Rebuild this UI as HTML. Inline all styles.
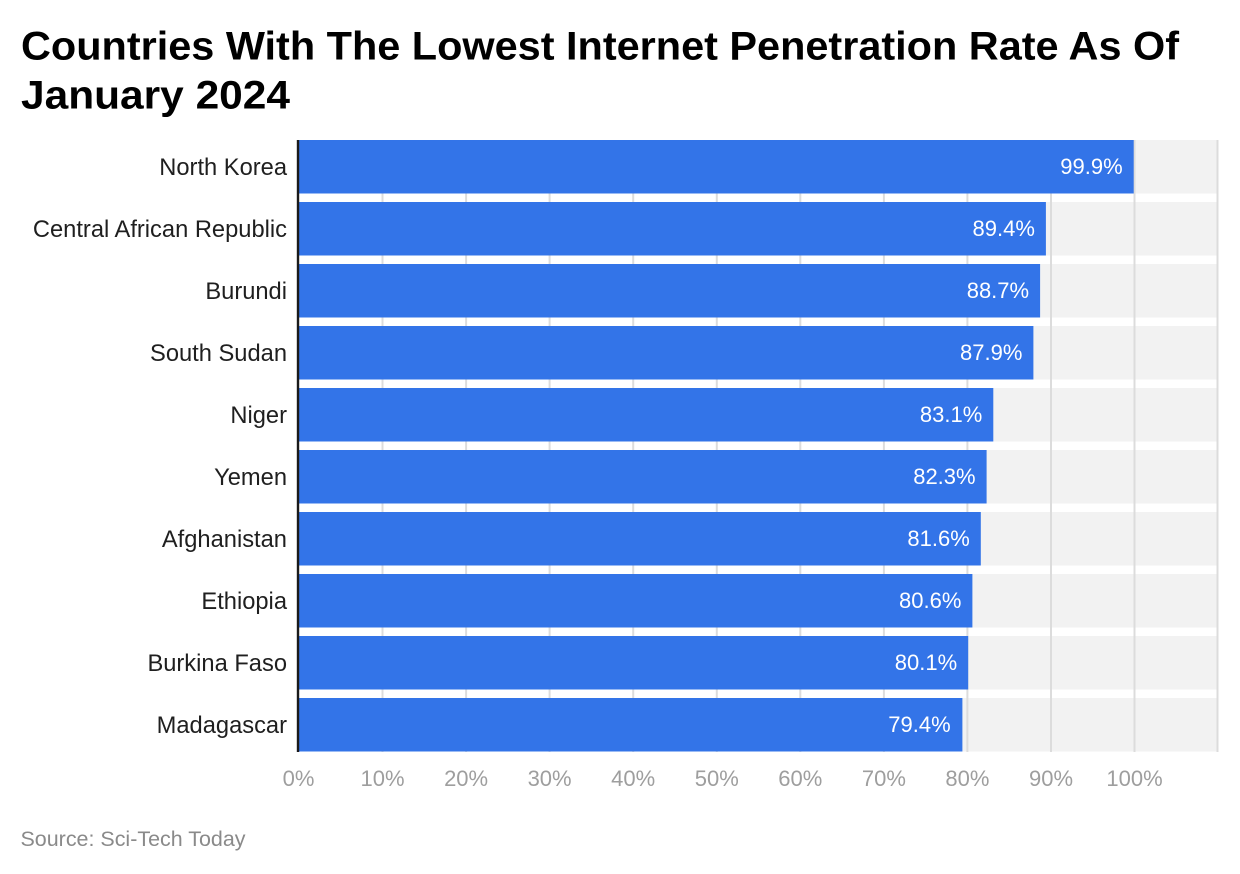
<!DOCTYPE html>
<html>
<head>
<meta charset="utf-8">
<style>
  html, body { margin:0; padding:0; background:#ffffff; }
  body { width:1240px; height:874px; overflow:hidden; }
  svg { display:block; }
  text { font-family: "Liberation Sans", Arial, sans-serif; }
</style>
</head>
<body>
<svg width="1240" height="874" viewBox="0 0 1240 874" xmlns="http://www.w3.org/2000/svg">
  <rect x="0" y="0" width="1240" height="874" fill="#ffffff"/>

  <!-- Title -->
  <text x="21" y="59.5" font-size="40" font-weight="bold" fill="#000" textLength="1158" lengthAdjust="spacingAndGlyphs">Countries With The Lowest Internet Penetration Rate As Of</text>
  <text x="21" y="108.5" font-size="40" font-weight="bold" fill="#000" textLength="269" lengthAdjust="spacingAndGlyphs">January 2024</text>

  <!-- Gray row backgrounds -->
  <g fill="#f2f2f2">
    <rect x="299" y="140" width="918" height="53.5"/>
    <rect x="299" y="202" width="918" height="53.5"/>
    <rect x="299" y="264" width="918" height="53.5"/>
    <rect x="299" y="326" width="918" height="53.5"/>
    <rect x="299" y="388" width="918" height="53.5"/>
    <rect x="299" y="450" width="918" height="53.5"/>
    <rect x="299" y="512" width="918" height="53.5"/>
    <rect x="299" y="574" width="918" height="53.5"/>
    <rect x="299" y="636" width="918" height="53.5"/>
    <rect x="299" y="698" width="918" height="53.5"/>
  </g>

  <!-- Gridlines -->
  <g stroke="#dcdcdc" stroke-width="2">
    <line x1="382.5" y1="140" x2="382.5" y2="752"/>
    <line x1="466.1" y1="140" x2="466.1" y2="752"/>
    <line x1="549.6" y1="140" x2="549.6" y2="752"/>
    <line x1="633.2" y1="140" x2="633.2" y2="752"/>
    <line x1="716.8" y1="140" x2="716.8" y2="752"/>
    <line x1="800.3" y1="140" x2="800.3" y2="752"/>
    <line x1="883.9" y1="140" x2="883.9" y2="752"/>
    <line x1="967.4" y1="140" x2="967.4" y2="752"/>
    <line x1="1051" y1="140" x2="1051" y2="752"/>
    <line x1="1134.5" y1="140" x2="1134.5" y2="752"/>
    <line x1="1217.5" y1="140" x2="1217.5" y2="752"/>
  </g>

  <!-- Bars -->
  <g fill="#3374e8">
    <rect x="299" y="140" width="834.7" height="53.5"/>
    <rect x="299" y="202" width="746.9" height="53.5"/>
    <rect x="299" y="264" width="741.1" height="53.5"/>
    <rect x="299" y="326" width="734.4" height="53.5"/>
    <rect x="299" y="388" width="694.3" height="53.5"/>
    <rect x="299" y="450" width="687.6" height="53.5"/>
    <rect x="299" y="512" width="681.8" height="53.5"/>
    <rect x="299" y="574" width="673.4" height="53.5"/>
    <rect x="299" y="636" width="669.2" height="53.5"/>
    <rect x="299" y="698" width="663.4" height="53.5"/>
  </g>

  <!-- Axis line -->
  <rect x="296.8" y="140" width="2.4" height="612" fill="#1a1a1a"/>

  <!-- Value labels -->
  <g font-size="22" fill="#ffffff" text-anchor="end">
    <text x="1122.7" y="174">99.9%</text>
    <text x="1034.9" y="236">89.4%</text>
    <text x="1029.1" y="298">88.7%</text>
    <text x="1022.4" y="360">87.9%</text>
    <text x="982.3" y="422">83.1%</text>
    <text x="975.6" y="484">82.3%</text>
    <text x="969.8" y="546">81.6%</text>
    <text x="961.4" y="608">80.6%</text>
    <text x="957.2" y="670">80.1%</text>
    <text x="950.7" y="732">79.4%</text>
  </g>

  <!-- Category labels -->
  <g font-size="23.7" fill="#1f1f1f" text-anchor="end">
    <text x="287" y="175">North Korea</text>
    <text x="287" y="237">Central African Republic</text>
    <text x="287" y="299">Burundi</text>
    <text x="287" y="361">South Sudan</text>
    <text x="287" y="423">Niger</text>
    <text x="287" y="485">Yemen</text>
    <text x="287" y="547">Afghanistan</text>
    <text x="287" y="609">Ethiopia</text>
    <text x="287" y="671">Burkina Faso</text>
    <text x="287" y="733">Madagascar</text>
  </g>

  <!-- Tick labels -->
  <g font-size="22" fill="#9e9e9e" text-anchor="middle">
    <text x="298.5" y="786">0%</text>
    <text x="382.5" y="786">10%</text>
    <text x="466.1" y="786">20%</text>
    <text x="549.6" y="786">30%</text>
    <text x="633.2" y="786">40%</text>
    <text x="716.8" y="786">50%</text>
    <text x="800.3" y="786">60%</text>
    <text x="883.9" y="786">70%</text>
    <text x="967.4" y="786">80%</text>
    <text x="1051" y="786">90%</text>
    <text x="1134.5" y="786">100%</text>
  </g>

  <!-- Source -->
  <text x="20.5" y="846" font-size="21" fill="#8a8a8a" textLength="225" lengthAdjust="spacingAndGlyphs">Source: Sci-Tech Today</text>
</svg>
</body>
</html>
